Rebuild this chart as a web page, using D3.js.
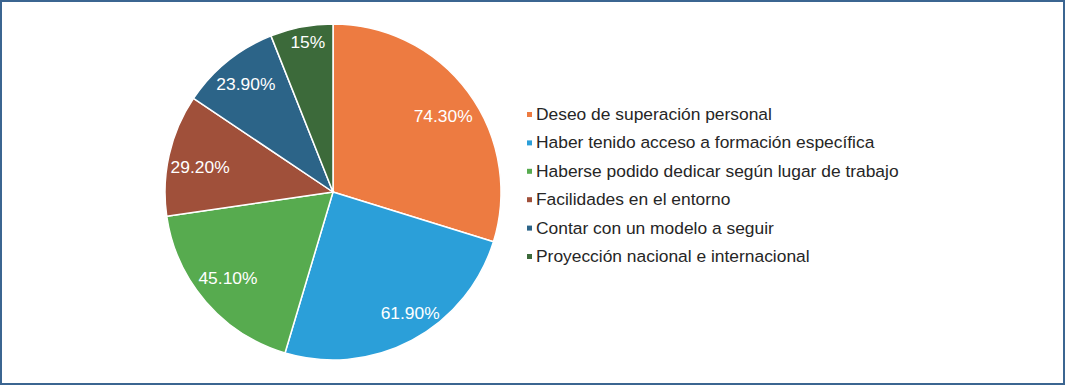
<!DOCTYPE html>
<html><head><meta charset="utf-8">
<script src="https://cdn.jsdelivr.net/npm/d3@7"></script>
<style>
html,body{margin:0;padding:0;background:#fff;}
svg{display:block;}
</style></head>
<body>
<svg id="chart" width="1065" height="385"></svg>
<script>
const categories = [
  "Deseo de superación personal",
  "Haber tenido acceso a formación específica",
  "Haberse podido dedicar según lugar de trabajo",
  "Facilidades en el entorno",
  "Contar con un modelo a seguir",
  "Proyección nacional e internacional"
];
const values = [74.3, 61.9, 45.1, 29.2, 23.9, 15];
const valueLabels = ["74.30%", "61.90%", "45.10%", "29.20%", "23.90%", "15%"];
const colors = ["#ED7B41", "#2B9FD9", "#57AB4F", "#A0503A", "#2C6488", "#3C6A3A"];

const svg = d3.select("#chart");
const W = 1065, H = 385;

// frame
svg.append("rect").attr("x", 1).attr("y", 1).attr("width", W - 2).attr("height", H - 2)
  .attr("fill", "#fff").attr("stroke", "#3B6591").attr("stroke-width", 2);

const cx = 333, cy = 192, r = 168;
const g = svg.append("g").attr("transform", `translate(${cx},${cy})`);

const pie = d3.pie().sort(null).value(d => d);
const arcs = pie(values);
const arc = d3.arc().innerRadius(0).outerRadius(r);

g.selectAll("path").data(arcs).enter().append("path")
  .attr("d", arc)
  .attr("fill", (d, i) => colors[i])
  .attr("stroke", "#fff").attr("stroke-width", 1.5).attr("stroke-linejoin", "round");

// label placement (layout only): radius factor and fraction along the slice
const labelRadius = [0.796, 0.854, 0.808, 0.805, 0.826, 0.905];
const labelFrac = [0.517, 0.45, 0.524, 0.45, 0.5, 0.56];
g.selectAll("text.lbl").data(arcs).enter().append("text")
  .attr("class", "lbl")
  .attr("transform", (d, i) => {
    const a = d.startAngle + (d.endAngle - d.startAngle) * labelFrac[i];
    const rr = r * labelRadius[i];
    return `translate(${Math.sin(a) * rr},${-Math.cos(a) * rr})`;
  })
  .attr("text-anchor", "middle").attr("dominant-baseline", "central")
  .attr("fill", "#fff")
  .style("font-family", "'Liberation Sans', Arial, sans-serif")
  .style("font-size", "17.4px")
  .text((d, i) => valueLabels[i]);

// legend
const legY = d3.scalePoint().domain(categories).range([114, 256]);
const leg = svg.append("g");
categories.forEach((c, i) => {
  const y = legY(c);
  leg.append("rect").attr("x", 527).attr("y", y - 2).attr("width", 5).attr("height", 5)
    .attr("fill", colors[i]);
  leg.append("text").attr("x", 536).attr("y", y)
    .attr("dominant-baseline", "central")
    .attr("fill", "#262626")
    .style("font-family", "'Liberation Sans', Arial, sans-serif")
    .style("font-size", "17.4px")
    .text(c);
});
</script>
</body></html>
